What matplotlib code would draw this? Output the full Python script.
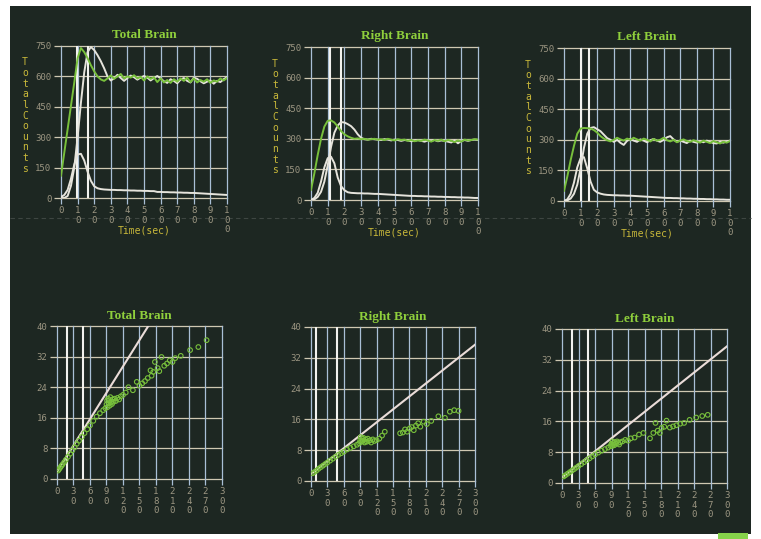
import matplotlib
matplotlib.use("Agg")
import matplotlib.pyplot as plt
from matplotlib.patches import Rectangle
from matplotlib.lines import Line2D

# ---------------- data ----------------
t = list(range(0, 101, 2))  # seconds

tb_green = [110, 225, 340, 455, 570, 690, 740, 720, 690, 655,
            625, 600, 585, 578, 590, 605, 588, 600, 612, 590,
            600, 594, 606, 590, 598, 580, 600, 588, 596, 572,
            590, 570, 582, 568, 586, 574, 590, 578, 594, 572,
            590, 570, 582, 574, 586, 568, 580, 574, 590, 580,
            592]
tb_white = [0, 0, 10, 60, 150, 300, 470, 620, 720, 745,
            730, 705, 675, 640, 600, 580, 590, 608, 592, 578,
            592, 604, 596, 584, 594, 602, 594, 580, 592, 602,
            590, 576, 568, 586, 578, 566, 584, 592, 578, 570,
            594, 588, 576, 566, 574, 580, 564, 578, 572, 586,
            596]
tb_low = [5, 15, 40, 95, 165, 215, 218, 185, 130, 85,
          58, 48, 44, 42, 41, 40, 40, 39, 39, 38,
          38, 37, 37, 36, 36, 35, 35, 34, 34, 30,
          30, 29, 29, 28, 28, 27, 27, 26, 26, 25,
          25, 24, 23, 22, 21, 20, 19, 18, 17, 16,
          15]

rb_green = [50, 130, 220, 300, 360, 388, 390, 380, 360, 338,
            322, 312, 305, 300, 302, 298, 300, 296, 298, 300,
            296, 298, 294, 300, 296, 292, 298, 294, 296, 290,
            294, 288, 292, 290, 296, 292, 286, 294, 290, 296,
            288, 294, 290, 284, 292, 286, 296, 292, 294, 298,
            296]
rb_white = [0, 3, 15, 40, 90, 170, 260, 330, 365, 382,
            380, 372, 362, 345, 322, 305, 298, 296, 300, 298,
            296, 294, 298, 296, 292, 296, 294, 290, 294, 292,
            288, 290, 294, 290, 286, 292, 290, 294, 288, 292,
            290, 286, 282, 292, 278, 290, 294, 290, 294, 296,
            294]
rb_low = [0, 10, 35, 90, 160, 205, 212, 180, 110, 68,
          48, 38, 35, 34, 33, 33, 32, 32, 31, 30,
          30, 29, 28, 27, 26, 25, 24, 23, 22, 21,
          20, 20, 19, 19, 18, 18, 17, 17, 16, 16,
          15, 15, 14, 14, 13, 13, 12, 12, 11, 10,
          10]

lb_green = [50, 120, 200, 270, 330, 355, 358, 357, 355, 348,
            335, 318, 306, 298, 292, 300, 310, 302, 296, 306,
            300, 310, 302, 296, 306, 300, 292, 304, 296, 300,
            310, 298, 292, 300, 288, 296, 302, 294, 290, 298,
            292, 286, 296, 290, 284, 294, 288, 282, 290, 286,
            294]
lb_white = [0, 3, 12, 35, 80, 160, 260, 330, 358, 362,
            352, 342, 325, 308, 300, 290, 300, 285, 275, 295,
            305, 296, 290, 302, 296, 288, 298, 304, 296, 290,
            300, 312, 318, 302, 290, 296, 290, 284, 296, 290,
            286, 292, 288, 296, 290, 284, 282, 290, 286, 292,
            296]
lb_low = [0, 8, 35, 90, 165, 210, 215, 160, 95, 55,
          42, 36, 32, 30, 29, 28, 28, 27, 27, 26,
          26, 25, 24, 23, 22, 21, 20, 19, 18, 17,
          16, 15, 15, 14, 14, 13, 13, 12, 12, 11,
          11, 10, 10, 9, 9, 8, 8, 7, 7, 6,
          6]

tb_markers = [9.5, 16]
rb_markers = [11.5, 18]
lb_markers = [10.5, 15]

# Patlak plots
tbp_line_x = [0, 166]
tbp_line_y = [1.9, 40]
rbp_line_x = [0, 300]
rbp_line_y = [1.8, 35.4]
lbp_line_x = [0, 300]
lbp_line_y = [1.4, 35.5]

tbp_markers = [18, 47]
rbp_markers = [9, 47]
lbp_markers = [18, 47]

tbp_x = [2, 4, 6, 8, 10, 13, 16, 20, 24, 28, 32, 36, 40, 45, 50, 55, 60, 66, 72, 78, 84,
         88, 90, 91, 92, 93, 94, 95, 96, 97, 98, 100, 101, 103, 105, 107, 110, 113, 116,
         120, 125, 130, 138, 145, 150, 155, 160, 165, 170, 172, 175, 178, 183, 186, 190,
         195, 200, 205, 210, 215, 225, 242, 257, 272]
tbp_y = [2.2, 2.6, 3.0, 3.4, 3.8, 4.4, 5.0, 5.8, 6.6, 7.5, 8.3, 9.2, 10.0, 11.0, 12.0, 13.0,
         14.0, 15.2, 16.3, 17.2, 18.0,
         18.5, 19.5, 20.5, 18.8, 21.0, 19.8, 20.6, 19.2, 21.4, 20.0, 19.6, 20.8, 20.2, 21.0,
         20.4, 21.2, 20.8, 21.6, 22.0, 22.6, 24.0, 23.2, 25.4, 24.4, 25.0, 25.6, 26.4, 28.4,
         27.0, 28.0, 30.6, 29.0, 28.2, 31.9, 29.6, 30.2, 31.0, 30.6, 31.6, 32.2, 33.7, 34.5, 36.3]

rbp_x = [3, 6, 10, 14, 18, 22, 26, 30, 35, 40, 45, 50, 55, 60, 66, 72, 78, 84,
         88, 90, 91, 92, 94, 95, 96, 98, 100, 102, 104, 106, 108, 110, 113, 116, 120,
         125, 130, 135, 163, 168, 172, 176, 180, 184, 188, 192, 196, 200, 206, 212, 220,
         233, 245, 254, 262, 270]
rbp_y = [2.0, 2.3, 2.7, 3.2, 3.6, 4.0, 4.4, 4.8, 5.3, 5.8, 6.3, 6.8, 7.2, 7.6, 8.2, 8.6, 9.0, 9.4,
         9.8, 10.6, 11.4, 10.2, 11.0, 10.4, 11.2, 10.0, 10.8, 10.2, 11.0, 10.4, 10.6, 10.0,
         10.8, 10.4, 10.6, 11.0, 11.8, 12.8, 12.4, 12.6, 13.4, 12.8, 13.6, 14.0, 13.2, 14.4,
         15.0, 14.1, 15.4, 14.8, 15.6, 16.8, 16.4, 18.0, 18.4, 18.2]

lbp_x = [3, 6, 10, 14, 18, 22, 26, 30, 35, 40, 45, 50, 55, 60, 66, 72, 78, 84,
         88, 90, 91, 92, 93, 94, 95, 96, 98, 100, 102, 104, 106, 110, 115, 120, 125,
         132, 140, 148, 160, 166, 170, 174, 178, 181, 186, 190, 196, 202, 208, 215, 222,
         232, 244, 255, 265]
lbp_y = [1.7, 2.0, 2.4, 2.8, 3.2, 3.6, 4.0, 4.4, 4.9, 5.4, 5.9, 6.4, 6.9, 7.4, 7.9, 8.4, 8.8, 9.2,
         9.6, 10.2, 9.6, 10.8, 10.0, 10.4, 9.8, 10.6, 10.2, 10.8, 10.4, 10.0, 10.6, 10.8,
         11.2, 11.0, 11.6, 11.8, 12.6, 13.0, 11.6, 13.0, 15.6, 13.6, 13.0, 14.3, 14.6, 16.2,
         14.4, 14.7, 15.0, 15.4, 15.6, 16.4, 17.0, 17.4, 17.7]

top_titles = ["Total Brain", "Right Brain", "Left Brain"]
bottom_titles = ["Total Brain", "Right Brain", "Left Brain"]
top_xticks = list(range(0, 101, 10))
top_yticks = [0, 150, 300, 450, 600, 750]
bot_xticks = list(range(0, 301, 30))
bot_yticks = [0, 8, 16, 24, 32, 40]
ylabel_text = "Total Counts"
xlabel_text = "Time(sec)"

# ---------------- style ----------------
W, H = 761, 539
BG = "#1d2722"
GREEN = "#78c03c"
WHITE = "#e6e4dc"
HGRID = "#cfc8b2"
VGRID = "#a9bfd6"
TICKC = "#9c9682"
TITLEC = "#8fcf3c"
LABELC = "#c8b83a"

fig = plt.figure(figsize=(W / 100, H / 100), dpi=100)
fig.patch.set_facecolor("white")
fig.patches.append(Rectangle((10 / W, 1 - 534 / H), 741 / W, 528 / H,
                             transform=fig.transFigure, facecolor=BG,
                             edgecolor="none", zorder=-10))
fig.patches.append(Rectangle((718 / W, 0), 30 / W, 6 / H,
                             transform=fig.transFigure, facecolor="#86d24a",
                             edgecolor="none", zorder=-10))
fig.lines.append(Line2D([10 / W, 751 / W], [1 - 218 / H, 1 - 218 / H],
                        transform=fig.transFigure, color="#3e4642", lw=0.8,
                        ls=(0, (4, 3)), zorder=-9))


def px_axes(left, right, top, bottom):
    return fig.add_axes([left / W, 1 - bottom / H, (right - left) / W, (bottom - top) / H])


def stacked(v):
    return "\n".join(str(v))


def style_axes(ax, xt, yt, xmax, ymax):
    ax.set_facecolor("none")
    ax.set_xlim(0, xmax)
    ax.set_ylim(0, ymax)
    ax.set_xticks(xt)
    ax.set_yticks(yt)
    ax.set_xticklabels([stacked(v) for v in xt], family="DejaVu Sans Mono",
                       fontsize=6.5, color=TICKC)
    ax.set_yticklabels([str(v) for v in yt], family="DejaVu Sans Mono",
                       fontsize=6.5, color=TICKC)
    for lab in ax.get_xticklabels():
        lab.set_linespacing(1.05)
    for v in yt:
        ax.axhline(v, color=HGRID, lw=0.9, zorder=1, clip_on=False)
    for v in xt:
        ax.axvline(v, color=VGRID, lw=0.9, zorder=1, clip_on=False)
    for s in ax.spines.values():
        s.set_visible(False)
    ax.tick_params(axis="x", length=4, width=0.9, color=VGRID, pad=2)
    ax.tick_params(axis="y", length=5, width=0.9, color=HGRID, pad=2)


top_boxes = [(61, 227, 46, 198), (311, 478, 47, 200), (564, 730, 48, 201)]
bot_boxes = [(57, 222, 326, 479), (311, 475, 327, 481), (562, 727, 329, 483)]

top_series = [(tb_green, tb_white, tb_low, tb_markers),
              (rb_green, rb_white, rb_low, rb_markers),
              (lb_green, lb_white, lb_low, lb_markers)]

for box, title, (g, w, lo, mk) in zip(top_boxes, top_titles, top_series):
    ax = px_axes(*box)
    style_axes(ax, top_xticks, top_yticks, 100, 750)
    for m in mk:
        ax.axvline(m, color="#f2f2ee", lw=1.5, zorder=3)
    ax.plot(t, lo, color=WHITE, lw=1.4, zorder=4)
    ax.plot(t, w, color=WHITE, lw=1.4, zorder=4)
    ax.plot(t, g, color=GREEN, lw=1.4, zorder=5)
    ax.set_title(title, family="Liberation Serif", fontweight="bold", fontsize=9.5,
                 color=TITLEC, pad=6)
    ax.set_xlabel(xlabel_text, family="DejaVu Sans Mono", fontsize=7, color=LABELC,
                  labelpad=-6)
    left = box[0]
    fig.text((left - 36) / W, 1 - (box[2] + box[3]) / 2 / H + 0.012,
             "\n".join(ylabel_text.replace(" ", "")), family="DejaVu Sans Mono",
             fontsize=7, color=LABELC, ha="center", va="center", linespacing=1.08)

bot_series = [(tbp_line_x, tbp_line_y, tbp_x, tbp_y, tbp_markers),
              (rbp_line_x, rbp_line_y, rbp_x, rbp_y, rbp_markers),
              (lbp_line_x, lbp_line_y, lbp_x, lbp_y, lbp_markers)]

for box, title, (lx, ly, sx, sy, mk) in zip(bot_boxes, bottom_titles, bot_series):
    ax = px_axes(*box)
    style_axes(ax, bot_xticks, bot_yticks, 300, 40)
    for m in mk:
        ax.axvline(m, color="#f2f2ee", lw=1.5, zorder=3)
    ax.plot(lx, ly, color="#eadcd8", lw=1.5, zorder=4)
    ax.scatter(sx, sy, s=11, facecolors="none", edgecolors=GREEN, linewidths=0.8, zorder=5)
    ax.set_title(title, family="Liberation Serif", fontweight="bold", fontsize=9.5,
                 color=TITLEC, pad=5)

fig.savefig("out.png", dpi=100, facecolor=fig.get_facecolor())
